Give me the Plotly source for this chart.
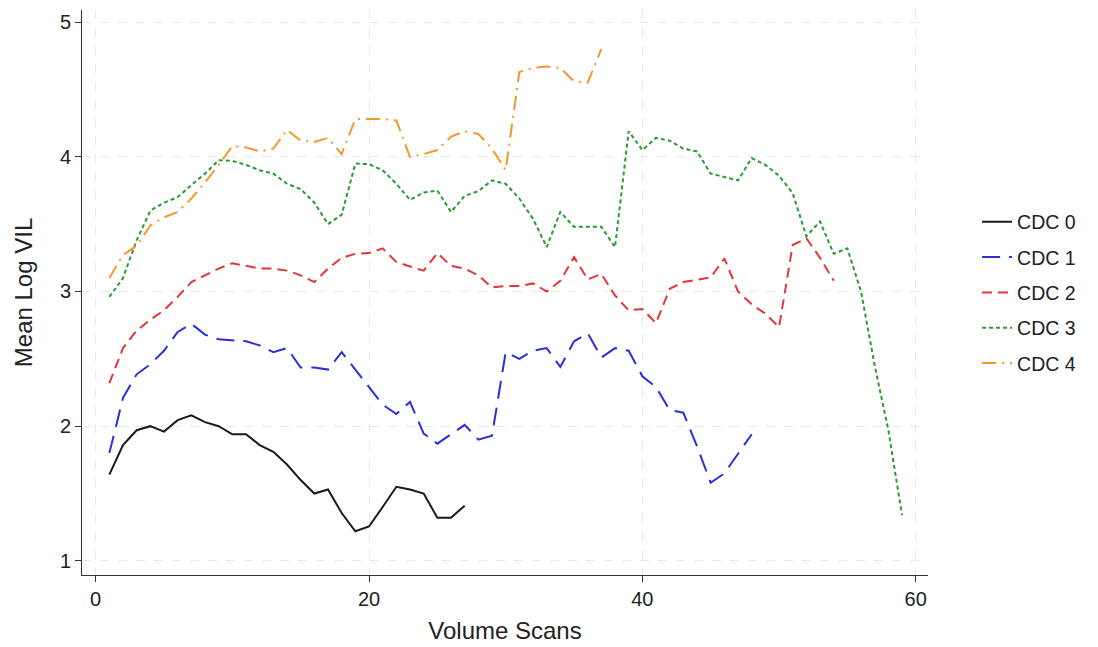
import plotly.graph_objects as go

cdc0 = [1.64, 1.86, 1.97, 2.00, 1.96, 2.045, 2.08, 2.03, 2.00, 1.94, 1.94, 1.86, 1.81, 1.715,
        1.60, 1.50, 1.53, 1.355, 1.22, 1.255, 1.40, 1.55, 1.53, 1.50, 1.32, 1.32, 1.41]
cdc1 = [1.80, 2.21, 2.385, 2.46, 2.56, 2.70, 2.76, 2.68, 2.645, 2.64, 2.63, 2.60, 2.55, 2.58,
        2.435, 2.435, 2.42, 2.55, 2.42, 2.29, 2.16, 2.09, 2.18, 1.945, 1.87, 1.94, 2.01, 1.90,
        1.93, 2.55, 2.50, 2.56, 2.58, 2.44, 2.63, 2.69, 2.51, 2.58, 2.56, 2.37, 2.29, 2.12,
        2.10, 1.85, 1.58, 1.65, 1.80, 1.94]
cdc2 = [2.32, 2.58, 2.71, 2.79, 2.86, 2.96, 3.07, 3.12, 3.17, 3.21, 3.19, 3.17, 3.17, 3.155,
        3.12, 3.07, 3.17, 3.25, 3.28, 3.285, 3.32, 3.22, 3.185, 3.155, 3.285, 3.19, 3.17, 3.12,
        3.03, 3.04, 3.04, 3.06, 3.00, 3.08, 3.255, 3.09, 3.13, 2.97, 2.86, 2.87, 2.765, 3.02,
        3.07, 3.09, 3.105, 3.245, 3.00, 2.905, 2.835, 2.735, 3.345, 3.395, 3.25, 3.08]
cdc3 = [2.96, 3.10, 3.38, 3.60, 3.66, 3.70, 3.79, 3.875, 3.975, 3.97, 3.94, 3.90, 3.875, 3.80,
        3.76, 3.66, 3.50, 3.57, 3.95, 3.945, 3.90, 3.80, 3.68, 3.735, 3.75, 3.59, 3.71, 3.745,
        3.825, 3.80, 3.69, 3.54, 3.33, 3.59, 3.48, 3.48, 3.48, 3.33, 4.19, 4.05, 4.14, 4.12,
        4.06, 4.04, 3.875, 3.85, 3.825, 3.99, 3.94, 3.86, 3.73, 3.41, 3.52, 3.28, 3.32, 3.00,
        2.45, 1.97, 1.34]
cdc4 = [3.10, 3.27, 3.34, 3.49, 3.55, 3.59, 3.69, 3.81, 3.94, 4.08, 4.07, 4.04, 4.06, 4.20,
        4.12, 4.11, 4.14, 4.02, 4.28, 4.28, 4.28, 4.27, 4.00, 4.02, 4.05, 4.15, 4.19, 4.17,
        4.06, 3.90, 4.63, 4.66, 4.67, 4.66, 4.56, 4.55, 4.80]

series = [
    ("CDC 0", cdc0, "#1a1a1a", "solid"),
    ("CDC 1", cdc1, "#2b2fd6", "18px,9px"),
    ("CDC 2", cdc2, "#e0383a", "10px,6px"),
    ("CDC 3", cdc3, "#2a9a35", "4px,3px"),
    ("CDC 4", cdc4, "#f0982e", "14px,6px,2px,6px"),
]

fig = go.Figure()
for i, (name, vals, color, dash) in enumerate(series):
    fig.add_trace(go.Scatter(
        x=list(range(1, len(vals) + 1)), y=vals, mode="lines", name=name,
        legendgroup=f"g{i}",
        line=dict(color=color, width=2, dash=dash),
    ))

fig.update_layout(
    width=1090, height=639,
    margin=dict(l=74, r=170, t=2, b=72),
    paper_bgcolor="white", plot_bgcolor="white",
    font=dict(family="Liberation Sans, Arial, sans-serif", size=20, color="#222"),
    legend=dict(x=1.058, xanchor="left", y=0.5, yanchor="middle",
                tracegroupgap=7, font=dict(size=19.5), bgcolor="rgba(0,0,0,0)"),
    showlegend=True,
)
fig.update_xaxes(
    range=[-1.0, 60.9], tickvals=[0, 20, 40, 60], showgrid=True,
    gridcolor="#e8e8e8", griddash="dash", gridwidth=1,
    showline=True, linecolor="#333", linewidth=1, ticks="outside",
    ticklen=6, tickcolor="#333", zeroline=False,
    title=dict(text="Volume Scans", standoff=13),
)
fig.update_yaxes(
    range=[0.895, 5.09], tickvals=[1, 2, 3, 4, 5], showgrid=True,
    gridcolor="#e8e8e8", griddash="dash", gridwidth=1,
    showline=True, linecolor="#333", linewidth=1, ticks="outside",
    ticklen=6, tickcolor="#333", zeroline=False,
    title=dict(text="Mean Log VIL", standoff=20),
)

fig.write_html("out.html")
